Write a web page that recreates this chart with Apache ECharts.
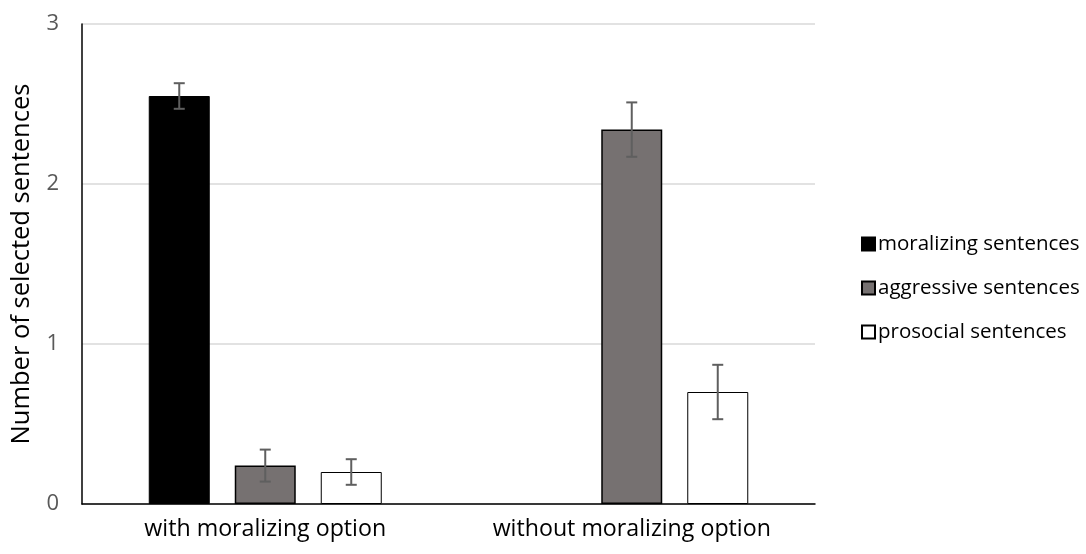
<!DOCTYPE html>
<html>
<head>
<meta charset="utf-8">
<script src="https://cdn.jsdelivr.net/npm/echarts@6/dist/echarts.min.js"></script>
<style>
html,body{margin:0;padding:0;background:#fff;}
#chart{width:1086px;height:554px;}
</style>
</head>
<body>
<div id="chart"></div>
<script>
const categories = ['with moralizing option', 'without moralizing option'];
const seriesNames = ['moralizing sentences', 'aggressive sentences', 'prosocial sentences'];
const moralizing = [2.55, null];
const aggressive = [0.24, 2.34];
const prosocial = [0.20, 0.70];
const moralizingErr = [[2.47, 2.63], null];
const aggressiveErr = [[0.14, 0.34], [2.17, 2.51]];
const prosocialErr = [[0.12, 0.28], [0.53, 0.87]];
const yTicks = [0, 1, 2, 3];

const FONT = 'Open Sans';
const BAR_W = 61;
const BAR_GAP_PX = 25;

const chart = echarts.init(document.getElementById('chart'));

function errSeries(errs, idx) {
  const data = [];
  errs.forEach((e, i) => { if (e) data.push([i, e[0], e[1]]); });
  return {
    type: 'custom',
    z: 10,
    silent: true,
    renderItem: function (params, api) {
      const c = api.value(0);
      const lo = api.coord([c, api.value(1)]);
      const hi = api.coord([c, api.value(2)]);
      const x = lo[0] + (idx - 1) * (BAR_W + BAR_GAP_PX);
      const cap = 5.5;
      const style = { stroke: '#5f5f5f', lineWidth: 2 };
      return {
        type: 'group',
        children: [
          { type: 'line', shape: { x1: x, y1: hi[1], x2: x, y2: lo[1] }, style: style },
          { type: 'line', shape: { x1: x - cap, y1: hi[1], x2: x + cap, y2: hi[1] }, style: style },
          { type: 'line', shape: { x1: x - cap, y1: lo[1], x2: x + cap, y2: lo[1] }, style: style }
        ]
      };
    },
    data: data
  };
}

const option = {
  animation: false,
  backgroundColor: '#ffffff',
  grid: { left: 82, right: 271, top: 24, bottom: 50, containLabel: false },
  legend: {
    orient: 'vertical',
    left: 856,
    top: 227,
    itemWidth: 13,
    itemHeight: 13,
    itemGap: 20,
    icon: 'rect',
    data: seriesNames,
    textStyle: { fontFamily: FONT, fontSize: 20.5, color: '#000', padding: [0, 0, 0, -2], lineHeight: 24 }
  },
  xAxis: {
    type: 'category',
    data: categories,
    axisLine: { lineStyle: { color: '#000', width: 1.5 } },
    axisTick: { show: false },
    axisLabel: { fontFamily: FONT, fontSize: 23.2, color: '#000', margin: 14 }
  },
  yAxis: {
    type: 'value',
    min: 0, max: 3, interval: 1,
    name: 'Number of selected sentences',
    nameLocation: 'middle',
    nameGap: 47,
    nameTextStyle: { fontFamily: FONT, fontSize: 25.5, color: '#000' },
    axisLine: { show: true, lineStyle: { color: '#000', width: 1.5 } },
    axisTick: { show: false },
    splitLine: { lineStyle: { color: '#d9d9d9', width: 1.5 } },
    axisLabel: {
      fontFamily: FONT, fontSize: 22, color: '#595959', margin: 23,
      formatter: function (v) { return yTicks.indexOf(v) >= 0 ? String(v) : ''; }
    }
  },
  series: [
    {
      name: seriesNames[0], type: 'bar', barWidth: BAR_W, barGap: (BAR_GAP_PX / BAR_W * 100) + '%',
      data: moralizing,
      itemStyle: { color: '#000000', borderColor: '#000', borderWidth: 1 }
    },
    {
      name: seriesNames[1], type: 'bar', barWidth: BAR_W,
      data: aggressive,
      itemStyle: { color: '#767171', borderColor: '#000', borderWidth: 1.5 }
    },
    {
      name: seriesNames[2], type: 'bar', barWidth: BAR_W,
      data: prosocial,
      itemStyle: { color: '#ffffff', borderColor: '#000', borderWidth: 1 }
    },
    errSeries(moralizingErr, 0),
    errSeries(aggressiveErr, 1),
    errSeries(prosocialErr, 2)
  ]
};
chart.setOption(option);
</script>
</body>
</html>
